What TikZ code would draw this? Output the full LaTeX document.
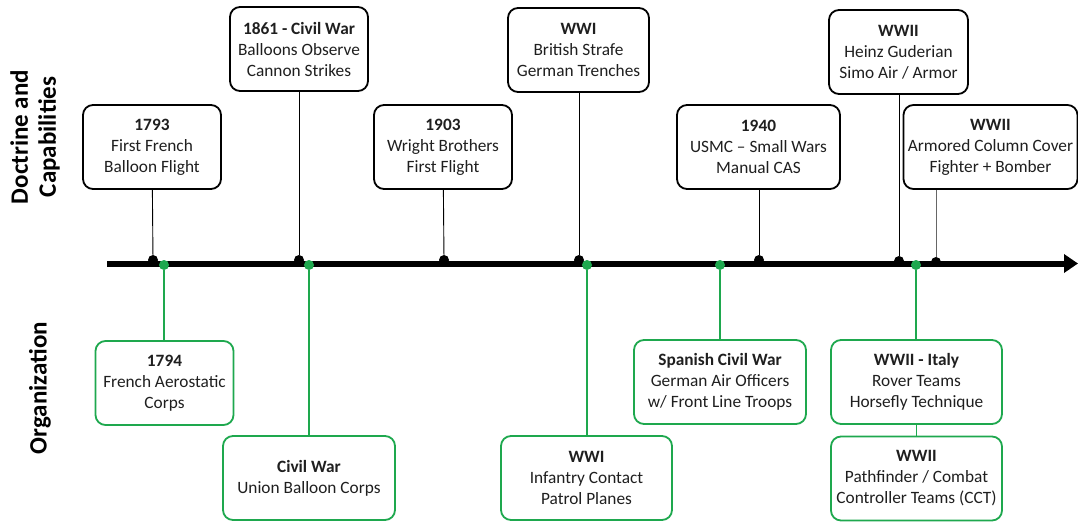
\documentclass[tikz,border=0pt]{standalone}
\usepackage{fontspec}
\setmainfont{Carlito}
\usepackage{tikz}
\usetikzlibrary{arrows.meta,positioning,calc}
\definecolor{orggreen}{RGB}{30,168,78}
\tikzset{
  event/.style={draw,rounded corners=10pt,align=center,line width=1.8pt,minimum width=138pt,minimum height=84pt,inner sep=3pt,fill=white,text=black!88,font=\fontsize{17.3}{21}\selectfont},
  doc/.style={event,draw=black},
  org/.style={event,draw=orggreen},
  tick/.style={circle,fill=black,inner sep=0pt,minimum size=10pt},
  gtick/.style={circle,fill=orggreen,inner sep=0pt,minimum size=10pt},
  stem/.style={line width=0.9pt},
  gstem/.style={line width=1.3pt,draw=orggreen},
  axis/.style={line width=6pt,-{Triangle[length=14pt,width=18pt]}},
  side/.style={rotate=90,align=center,font=\fontsize{25}{28}\selectfont\bfseries}
}
\begin{document}
\begin{tikzpicture}[x=1pt,y=1pt]
\useasboundingbox (0,0) rectangle (1078,-522);
% timeline
\coordinate (t0) at (107,-263.5);
\coordinate (t1) at (1078,-263.5);
\draw[axis] (t0)--(t1);
% side labels
\node[side] (lblDoc) at (35,-137) {Doctrine and\\Capabilities};
\node[side] (lblOrg) at (40,-388) {Organization};
% doctrine and capabilities
\node[doc] (d1793) at (152,-147) {\textbf{1793}\\First French\\Balloon Flight};
\node[doc] (d1861) at (299,-49) {\textbf{1861 - Civil War}\\Balloons Observe\\Cannon Strikes};
\node[doc] (d1903) at (443,-147) {\textbf{1903}\\Wright Brothers\\First Flight};
\node[doc,minimum width=141pt] (dwwi) at (578.5,-50) {\textbf{WWI}\\British Strafe\\German Trenches};
\node[doc,minimum width=163pt] (d1940) at (758.5,-147) {\textbf{1940}\\USMC -- Small Wars\\Manual CAS};
\node[doc,minimum width=139pt] (dheinz) at (898.5,-52) {\textbf{WWII}\\Heinz Guderian\\Simo Air / Armor};
\node[doc,minimum width=174pt] (darmor) at (990.5,-147) {\textbf{WWII}\\Armored Column Cover\\Fighter + Bomber};
% organization
\node[org] (o1794) at (164.5,-383) {\textbf{1794}\\French Aerostatic\\Corps};
\node[org,minimum width=172pt] (ocivil) at (309,-478) {\textbf{Civil War}\\Union Balloon Corps};
\node[org,minimum width=171pt] (owwi) at (586.5,-478) {\textbf{WWI}\\Infantry Contact\\Patrol Planes};
\node[org,minimum width=172pt] (ospain) at (720,-382) {\textbf{Spanish Civil War}\\German Air Officers\\w/ Front Line Troops};
\node[org,minimum width=171pt] (oitaly) at (916.5,-382) {\textbf{WWII - Italy}\\Rover Teams\\Horsefly Technique};
\node[org,minimum width=171pt] (occt) at (916.5,-478.5) {\textbf{WWII}\\Pathfinder / Combat\\Controller Teams (CCT)};
% ticks on the timeline
\node[tick] (k1793) at (153,-260) {};
\node[tick] (k1861) at (299,-260) {};
\node[tick] (k1903) at (444,-260) {};
\node[tick] (kwwi) at (579,-260) {};
\node[tick] (k1940) at (759,-260) {};
\node[tick] (kheinz) at (899,-261) {};
\node[tick] (karmor) at (936,-262) {};
\node[gtick] (g1794) at (164,-265) {};
\node[gtick] (gcivil) at (309,-265) {};
\node[gtick] (gwwi) at (587,-265) {};
\node[gtick] (gspain) at (720,-265) {};
\node[gtick] (gitaly) at (916,-265) {};
% stems
\draw[stem] (d1793)--(k1793); \draw[stem] (d1861)--(k1861); \draw[stem] (d1903)--(k1903);
\draw[stem] (dwwi.south -| kwwi)--(kwwi); \draw[stem] (d1940.south -| k1940)--(k1940);
\draw[stem] (dheinz.south -| kheinz)--(kheinz); \draw[stem,draw=black!60] (darmor.south -| karmor)--(karmor);
\draw[gstem] (g1794)--(o1794.north -| g1794); \draw[gstem] (gcivil)--(ocivil);
\draw[gstem] (gwwi)--(owwi.north -| gwwi); \draw[gstem] (gspain)--(ospain);
\draw[gstem] (gitaly)--(oitaly.north -| gitaly); \draw[gstem] (oitaly)--(occt);
\end{tikzpicture}
\end{document}
